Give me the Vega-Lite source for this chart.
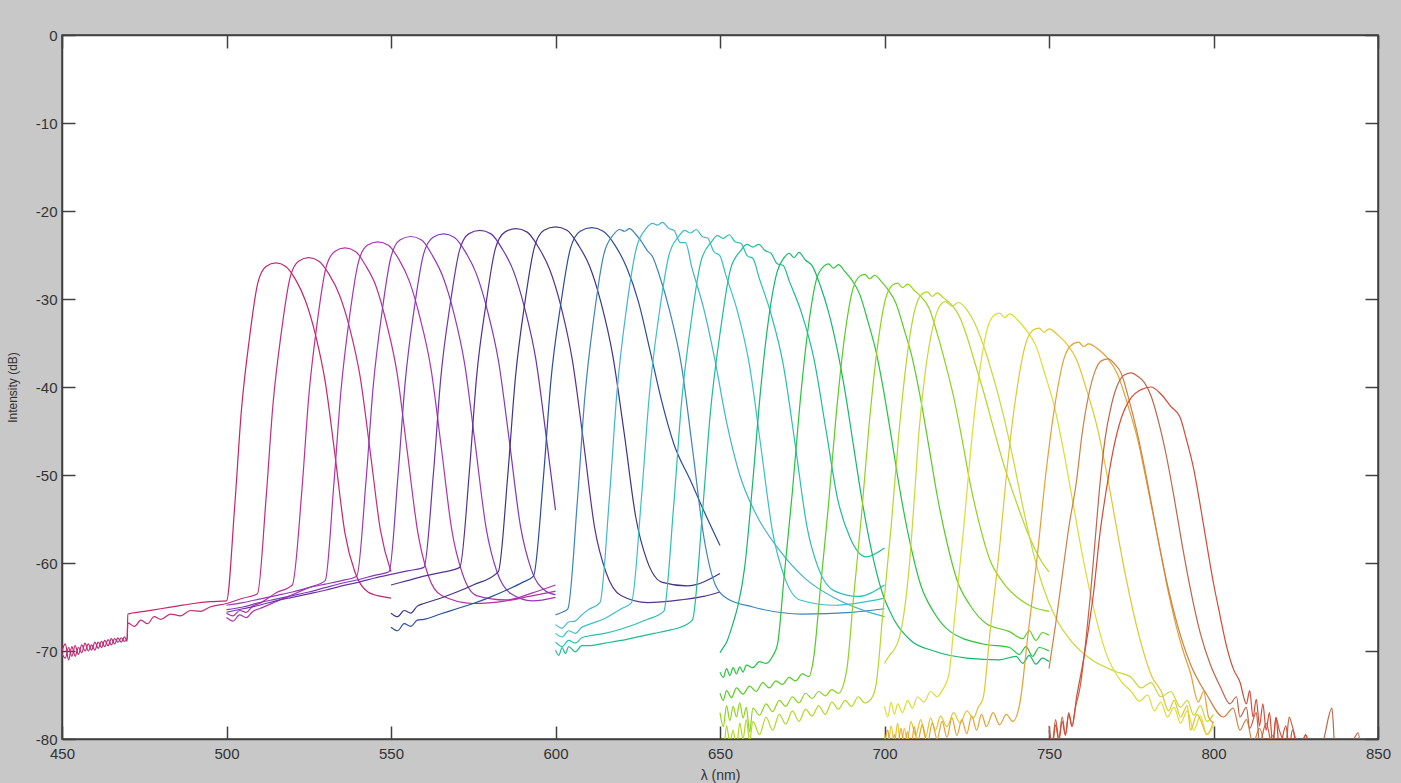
{
"$schema":"https://vega.github.io/schema/vega-lite/v6.json",
"width":1316,"height":704,
"autosize":{"type":"none"},
"padding":{"left":62,"top":35,"right":23,"bottom":44},
"background":"#c8c8c8",
"config":{"view":{"fill":"white","stroke":"#404040","strokeWidth":1.5},
"axis":{"grid":false,"domainColor":"#404040","domainWidth":1.5,"tickColor":"#404040","tickWidth":1.5,"labelFont":"Liberation Sans","labelFontSize":15,"labelColor":"#333333","titleFont":"Liberation Sans","titleFontWeight":"normal","titleColor":"#333333","labelFlush":false,"labelOverlap":false}},
"datasets":{"spectra":[
{"c":"01","x":450,"y":-70},{"c":"01","x":451,"y":-69.2},{"c":"01","x":452,"y":-71},{"c":"01","x":453,"y":-69.5},{"c":"01","x":454,"y":-70.6},{"c":"01","x":455,"y":-69.6},{"c":"01","x":456,"y":-70.2},{"c":"01","x":457,"y":-69.1},{"c":"01","x":458,"y":-70},{"c":"01","x":459,"y":-69.3},{"c":"01","x":460,"y":-69.9},{"c":"01","x":461,"y":-69},{"c":"01","x":462,"y":-69.6},{"c":"01","x":463,"y":-68.8},{"c":"01","x":464,"y":-69.4},{"c":"01","x":465,"y":-68.6},{"c":"01","x":466,"y":-69.2},{"c":"01","x":467,"y":-68.5},{"c":"01","x":468,"y":-69},{"c":"01","x":469,"y":-68.4},{"c":"01","x":469.8,"y":-68.9},{"c":"01","x":470,"y":-65.8},{"c":"01","x":475,"y":-65.5},{"c":"01","x":480,"y":-65.2},{"c":"01","x":485,"y":-64.9},{"c":"01","x":490,"y":-64.6},{"c":"01","x":495,"y":-64.4},{"c":"01","x":500,"y":-64.3},{"c":"01","x":502.5,"y":-53.5},{"c":"01","x":504.5,"y":-42.8},{"c":"01","x":507,"y":-34.4},{"c":"01","x":509.5,"y":-28.2},{"c":"01","x":512,"y":-26.3},{"c":"01","x":515,"y":-25.9},{"c":"01","x":518,"y":-26.3},{"c":"01","x":521,"y":-27.8},{"c":"01","x":524,"y":-30.2},{"c":"01","x":527,"y":-34},{"c":"01","x":530,"y":-39.4},{"c":"01","x":533,"y":-47.8},{"c":"01","x":536,"y":-56.6},{"c":"01","x":539,"y":-61},{"c":"01","x":543,"y":-63.3},{"c":"01","x":547,"y":-63.8},{"c":"01","x":550,"y":-64},
{"c":"02","x":450,"y":-70.3},{"c":"02","x":451,"y":-70.8},{"c":"02","x":452,"y":-69.6},{"c":"02","x":453,"y":-70.6},{"c":"02","x":454,"y":-69.4},{"c":"02","x":455,"y":-70.4},{"c":"02","x":456,"y":-69.3},{"c":"02","x":457,"y":-70},{"c":"02","x":458,"y":-69.2},{"c":"02","x":459,"y":-69.9},{"c":"02","x":460,"y":-69},{"c":"02","x":461,"y":-69.7},{"c":"02","x":462,"y":-68.9},{"c":"02","x":463,"y":-69.5},{"c":"02","x":464,"y":-68.7},{"c":"02","x":465,"y":-69.3},{"c":"02","x":466,"y":-68.6},{"c":"02","x":467,"y":-69},{"c":"02","x":468,"y":-68.5},{"c":"02","x":469,"y":-68.9},{"c":"02","x":469.8,"y":-68.6},{"c":"02","x":470,"y":-66.8},{"c":"02","x":472,"y":-67.2},{"c":"02","x":474,"y":-66.5},{"c":"02","x":476,"y":-66.9},{"c":"02","x":478,"y":-66.1},{"c":"02","x":480,"y":-66.4},{"c":"02","x":483,"y":-65.8},{"c":"02","x":486,"y":-66},{"c":"02","x":489,"y":-65.4},{"c":"02","x":492,"y":-65.5},{"c":"02","x":495,"y":-65},{"c":"02","x":500,"y":-64.6},{"c":"02","x":505,"y":-64},{"c":"02","x":509.4,"y":-63.5},{"c":"02","x":512,"y":-52.8},{"c":"02","x":514.1,"y":-42.1},{"c":"02","x":516.7,"y":-33.7},{"c":"02","x":519.3,"y":-27.6},{"c":"02","x":521.9,"y":-25.7},{"c":"02","x":525,"y":-25.3},{"c":"02","x":528.1,"y":-25.7},{"c":"02","x":531.2,"y":-27.2},{"c":"02","x":534.4,"y":-29.6},{"c":"02","x":537.5,"y":-33.4},{"c":"02","x":540.6,"y":-38.8},{"c":"02","x":543.7,"y":-47.4},{"c":"02","x":546.8,"y":-56.3},{"c":"02","x":550,"y":-61},
{"c":"03","x":500,"y":-65.7},{"c":"03","x":502,"y":-66},{"c":"03","x":504,"y":-65.4},{"c":"03","x":506,"y":-65.6},{"c":"03","x":508,"y":-64.9},{"c":"03","x":510,"y":-64.6},{"c":"03","x":515,"y":-63.4},{"c":"03","x":520,"y":-62.5},{"c":"03","x":522.9,"y":-51.8},{"c":"03","x":525,"y":-41.1},{"c":"03","x":527.6,"y":-32.6},{"c":"03","x":530.2,"y":-26.5},{"c":"03","x":532.9,"y":-24.6},{"c":"03","x":536,"y":-24.2},{"c":"03","x":539.2,"y":-24.6},{"c":"03","x":542.3,"y":-26.2},{"c":"03","x":545.5,"y":-28.6},{"c":"03","x":548.6,"y":-32.7},{"c":"03","x":551.8,"y":-38.3},{"c":"03","x":554.9,"y":-47.2},{"c":"03","x":558.1,"y":-56.4},{"c":"03","x":561.2,"y":-61.3},{"c":"03","x":565.4,"y":-63.7},{"c":"03","x":575,"y":-64.6},{"c":"03","x":585,"y":-64.3},{"c":"03","x":592,"y":-63.8},{"c":"03","x":600,"y":-63.2},
{"c":"04","x":500,"y":-66.2},{"c":"04","x":502,"y":-66.6},{"c":"04","x":504,"y":-65.9},{"c":"04","x":506,"y":-66.2},{"c":"04","x":508,"y":-65.5},{"c":"04","x":510,"y":-65.2},{"c":"04","x":515,"y":-64.4},{"c":"04","x":520,"y":-63.6},{"c":"04","x":525,"y":-62.8},{"c":"04","x":530,"y":-62},{"c":"04","x":532.6,"y":-51.2},{"c":"04","x":534.8,"y":-40.4},{"c":"04","x":537.4,"y":-32},{"c":"04","x":540.1,"y":-25.8},{"c":"04","x":542.8,"y":-23.9},{"c":"04","x":546,"y":-23.5},{"c":"04","x":549.2,"y":-23.9},{"c":"04","x":552.4,"y":-25.5},{"c":"04","x":555.6,"y":-28},{"c":"04","x":558.8,"y":-32.1},{"c":"04","x":562.1,"y":-37.8},{"c":"04","x":565.3,"y":-46.9},{"c":"04","x":568.5,"y":-56.3},{"c":"04","x":571.7,"y":-61.2},{"c":"04","x":576,"y":-63.7},{"c":"04","x":585,"y":-64.2},{"c":"04","x":593,"y":-63.4},{"c":"04","x":600,"y":-62.5},
{"c":"05","x":500,"y":-64.8},{"c":"05","x":505,"y":-64.5},{"c":"05","x":510,"y":-64.1},{"c":"05","x":515,"y":-63.7},{"c":"05","x":520,"y":-63.3},{"c":"05","x":525,"y":-62.8},{"c":"05","x":530,"y":-62.4},{"c":"05","x":535,"y":-62},{"c":"05","x":539.6,"y":-61.5},{"c":"05","x":542.4,"y":-50.7},{"c":"05","x":544.6,"y":-39.9},{"c":"05","x":547.3,"y":-31.4},{"c":"05","x":550,"y":-25.2},{"c":"05","x":552.7,"y":-23.3},{"c":"05","x":556,"y":-22.9},{"c":"05","x":559.3,"y":-23.3},{"c":"05","x":562.5,"y":-25},{"c":"05","x":565.8,"y":-27.5},{"c":"05","x":569.1,"y":-31.6},{"c":"05","x":572.4,"y":-37.4},{"c":"05","x":575.6,"y":-46.5},{"c":"05","x":578.9,"y":-56},{"c":"05","x":582.2,"y":-61},{"c":"05","x":586.5,"y":-63.5},{"c":"05","x":593,"y":-64.3},{"c":"05","x":600,"y":-63.9},
{"c":"06","x":500,"y":-65.3},{"c":"06","x":505,"y":-65},{"c":"06","x":510,"y":-64.5},{"c":"06","x":515,"y":-64.1},{"c":"06","x":520,"y":-63.7},{"c":"06","x":525,"y":-63.3},{"c":"06","x":530,"y":-62.8},{"c":"06","x":535,"y":-62.3},{"c":"06","x":540,"y":-61.9},{"c":"06","x":545,"y":-61.4},{"c":"06","x":549.4,"y":-61},{"c":"06","x":552.1,"y":-50.2},{"c":"06","x":554.3,"y":-39.5},{"c":"06","x":557.1,"y":-31},{"c":"06","x":559.9,"y":-24.9},{"c":"06","x":562.7,"y":-23},{"c":"06","x":566,"y":-22.6},{"c":"06","x":569.3,"y":-23},{"c":"06","x":572.7,"y":-24.7},{"c":"06","x":576,"y":-27.2},{"c":"06","x":579.3,"y":-31.3},{"c":"06","x":582.7,"y":-37.1},{"c":"06","x":586,"y":-46.2},{"c":"06","x":589.3,"y":-55.7},{"c":"06","x":592.6,"y":-60.7},{"c":"06","x":597.1,"y":-63.2},{"c":"06","x":600,"y":-63.6},
{"c":"07","x":500,"y":-65.6},{"c":"07","x":505,"y":-65.2},{"c":"07","x":510,"y":-64.8},{"c":"07","x":515,"y":-64.3},{"c":"07","x":520,"y":-63.9},{"c":"07","x":525,"y":-63.5},{"c":"07","x":530,"y":-63.1},{"c":"07","x":535,"y":-62.6},{"c":"07","x":540,"y":-62.2},{"c":"07","x":545,"y":-61.7},{"c":"07","x":550,"y":-61.3},{"c":"07","x":555,"y":-60.9},{"c":"07","x":560,"y":-60.5},{"c":"07","x":562.9,"y":-49.8},{"c":"07","x":565.1,"y":-39.1},{"c":"07","x":568,"y":-30.6},{"c":"07","x":570.8,"y":-24.5},{"c":"07","x":573.6,"y":-22.6},{"c":"07","x":577,"y":-22.2},{"c":"07","x":580.4,"y":-22.6},{"c":"07","x":583.8,"y":-24.3},{"c":"07","x":587.2,"y":-26.8},{"c":"07","x":590.6,"y":-31},{"c":"07","x":594,"y":-36.8},{"c":"07","x":597.3,"y":-46},{"c":"07","x":600,"y":-54},
{"c":"08","x":550,"y":-62.5},{"c":"08","x":555,"y":-62},{"c":"08","x":560,"y":-61.5},{"c":"08","x":565,"y":-61.1},{"c":"08","x":570.9,"y":-60.5},{"c":"08","x":573.8,"y":-49.7},{"c":"08","x":576,"y":-38.9},{"c":"08","x":578.9,"y":-30.5},{"c":"08","x":581.7,"y":-24.3},{"c":"08","x":584.6,"y":-22.4},{"c":"08","x":588,"y":-22},{"c":"08","x":591.4,"y":-22.4},{"c":"08","x":594.8,"y":-24.1},{"c":"08","x":598.3,"y":-26.7},{"c":"08","x":601.7,"y":-30.9},{"c":"08","x":605.1,"y":-36.9},{"c":"08","x":608.5,"y":-46.2},{"c":"08","x":611.9,"y":-56},{"c":"08","x":615.4,"y":-61.1},{"c":"08","x":619.9,"y":-63.7},{"c":"08","x":628,"y":-64.5},{"c":"08","x":638,"y":-64.2},{"c":"08","x":645,"y":-63.8},{"c":"08","x":650,"y":-63.3},
{"c":"09","x":550,"y":-65.7},{"c":"09","x":552,"y":-66.1},{"c":"09","x":554,"y":-65.4},{"c":"09","x":556,"y":-65.7},{"c":"09","x":558,"y":-64.9},{"c":"09","x":560,"y":-64.6},{"c":"09","x":565,"y":-64},{"c":"09","x":570,"y":-63.3},{"c":"09","x":575,"y":-62.5},{"c":"09","x":582.6,"y":-61},{"c":"09","x":585.5,"y":-50},{"c":"09","x":587.8,"y":-39},{"c":"09","x":590.7,"y":-30.4},{"c":"09","x":593.6,"y":-24.1},{"c":"09","x":596.5,"y":-22.2},{"c":"09","x":600,"y":-21.8},{"c":"09","x":603.5,"y":-22.2},{"c":"09","x":607,"y":-23.9},{"c":"09","x":610.4,"y":-26.3},{"c":"09","x":613.9,"y":-30.5},{"c":"09","x":617.4,"y":-36.4},{"c":"09","x":620.9,"y":-45.3},{"c":"09","x":624.4,"y":-54.8},{"c":"09","x":627.8,"y":-59.7},{"c":"09","x":632.5,"y":-62.2},{"c":"09","x":640,"y":-62.6},{"c":"09","x":650,"y":-61.2},
{"c":"10","x":550,"y":-67.3},{"c":"10","x":552,"y":-67.7},{"c":"10","x":554,"y":-66.9},{"c":"10","x":556,"y":-67.2},{"c":"10","x":558,"y":-66.5},{"c":"10","x":560,"y":-66.4},{"c":"10","x":565,"y":-65.8},{"c":"10","x":570,"y":-65.2},{"c":"10","x":575,"y":-64.6},{"c":"10","x":580,"y":-63.9},{"c":"10","x":585,"y":-63.1},{"c":"10","x":590,"y":-62.2},{"c":"10","x":593.3,"y":-61.5},{"c":"10","x":596.3,"y":-50.4},{"c":"10","x":598.6,"y":-39.3},{"c":"10","x":601.6,"y":-30.6},{"c":"10","x":604.5,"y":-24.3},{"c":"10","x":607.5,"y":-22.3},{"c":"10","x":611,"y":-21.9},{"c":"10","x":614.5,"y":-22.3},{"c":"10","x":618.1,"y":-23.9},{"c":"10","x":621.6,"y":-26.4},{"c":"10","x":625.2,"y":-30.3},{"c":"10","x":628.7,"y":-35.8},{"c":"10","x":632.2,"y":-41.5},{"c":"10","x":636,"y":-46.5},{"c":"10","x":641,"y":-50.6},{"c":"10","x":645,"y":-54},{"c":"10","x":650,"y":-58},
{"c":"11","x":600,"y":-65.9},{"c":"11","x":602,"y":-65.6},{"c":"11","x":603.75,"y":-65.2},{"c":"11","x":606.6,"y":-53.2},{"c":"11","x":608.9,"y":-41.2},{"c":"11","x":611.8,"y":-31.7},{"c":"11","x":614.7,"y":-24.9},{"c":"11","x":617.6,"y":-22.7},{"c":"11","x":619.5,"y":-22.1},{"c":"11","x":621,"y":-22.3},{"c":"11","x":622.5,"y":-22},{"c":"11","x":624.5,"y":-22.7},{"c":"11","x":626,"y":-23.4},{"c":"11","x":627.9,"y":-24.5},{"c":"11","x":629.5,"y":-25.2},{"c":"11","x":631.4,"y":-27.1},{"c":"11","x":634.8,"y":-31.5},{"c":"11","x":638.3,"y":-37.6},{"c":"11","x":641.7,"y":-47.2},{"c":"11","x":645.2,"y":-57.3},{"c":"11","x":648.6,"y":-62.5},{"c":"11","x":652,"y":-64},{"c":"11","x":660,"y":-65},{"c":"11","x":675,"y":-65.8},{"c":"11","x":690,"y":-65.6},{"c":"11","x":700,"y":-65.2},
{"c":"12","x":600,"y":-67},{"c":"12","x":602,"y":-67.4},{"c":"12","x":604,"y":-66.7},{"c":"12","x":606,"y":-66.6},{"c":"12","x":608,"y":-65.9},{"c":"12","x":610,"y":-65.3},{"c":"12","x":613.5,"y":-64.5},{"c":"12","x":616.4,"y":-52.5},{"c":"12","x":618.7,"y":-40.5},{"c":"12","x":621.6,"y":-31},{"c":"12","x":624.6,"y":-24.2},{"c":"12","x":627.5,"y":-22},{"c":"12","x":629.5,"y":-21.4},{"c":"12","x":631,"y":-21.6},{"c":"12","x":632.5,"y":-21.3},{"c":"12","x":634.5,"y":-22},{"c":"12","x":636,"y":-22.2},{"c":"12","x":638,"y":-23.6},{"c":"12","x":639.5,"y":-23.6},{"c":"12","x":641.5,"y":-26.5},{"c":"12","x":645,"y":-31},{"c":"12","x":648.5,"y":-37},{"c":"12","x":652,"y":-44},{"c":"12","x":656,"y":-50},{"c":"12","x":661,"y":-54.5},{"c":"12","x":668,"y":-58.5},{"c":"12","x":676,"y":-61.8},{"c":"12","x":685,"y":-64},{"c":"12","x":693,"y":-65.3},{"c":"12","x":700,"y":-66.1},
{"c":"13","x":600,"y":-68},{"c":"13","x":602,"y":-68.4},{"c":"13","x":604,"y":-67.7},{"c":"13","x":606,"y":-68},{"c":"13","x":608,"y":-67.3},{"c":"13","x":610,"y":-67},{"c":"13","x":615,"y":-66.3},{"c":"13","x":620,"y":-65.2},{"c":"13","x":623.1,"y":-64.5},{"c":"13","x":626.1,"y":-52.7},{"c":"13","x":628.5,"y":-41},{"c":"13","x":631.5,"y":-31.7},{"c":"13","x":634.5,"y":-25},{"c":"13","x":637.4,"y":-22.9},{"c":"13","x":639.3,"y":-22.2},{"c":"13","x":641,"y":-22.5},{"c":"13","x":642.8,"y":-22.1},{"c":"13","x":644.6,"y":-22.9},{"c":"13","x":646.3,"y":-23.1},{"c":"13","x":648.1,"y":-24.6},{"c":"13","x":650,"y":-25.1},{"c":"13","x":651.7,"y":-27.2},{"c":"13","x":655.3,"y":-31.4},{"c":"13","x":658.9,"y":-37.4},{"c":"13","x":662.4,"y":-46.7},{"c":"13","x":666,"y":-56.5},{"c":"13","x":669.6,"y":-61.6},{"c":"13","x":674.3,"y":-64.2},{"c":"13","x":685,"y":-64.8},{"c":"13","x":700,"y":-64},
{"c":"14","x":600,"y":-69},{"c":"14","x":602,"y":-69.5},{"c":"14","x":604,"y":-68.8},{"c":"14","x":606,"y":-69.1},{"c":"14","x":608,"y":-68.5},{"c":"14","x":610,"y":-68.3},{"c":"14","x":615,"y":-68},{"c":"14","x":620,"y":-67.5},{"c":"14","x":628,"y":-66.4},{"c":"14","x":632.9,"y":-65.5},{"c":"14","x":635.9,"y":-53.6},{"c":"14","x":638.3,"y":-41.8},{"c":"14","x":641.3,"y":-32.4},{"c":"14","x":644.3,"y":-25.6},{"c":"14","x":647.4,"y":-23.5},{"c":"14","x":649.2,"y":-22.8},{"c":"14","x":651,"y":-23.1},{"c":"14","x":652.8,"y":-22.7},{"c":"14","x":654.6,"y":-23.5},{"c":"14","x":656.4,"y":-23.7},{"c":"14","x":658.3,"y":-25.1},{"c":"14","x":660,"y":-25.4},{"c":"14","x":661.9,"y":-27.6},{"c":"14","x":665.5,"y":-31.7},{"c":"14","x":669.2,"y":-37.4},{"c":"14","x":672.8,"y":-46.4},{"c":"14","x":676.4,"y":-55.8},{"c":"14","x":680,"y":-60.7},{"c":"14","x":684.9,"y":-63.2},{"c":"14","x":692,"y":-63.8},{"c":"14","x":700,"y":-62.5},
{"c":"15","x":600,"y":-69.9},{"c":"15","x":601,"y":-70.5},{"c":"15","x":602,"y":-69.6},{"c":"15","x":603,"y":-70.3},{"c":"15","x":604,"y":-69.5},{"c":"15","x":606,"y":-70.1},{"c":"15","x":608,"y":-69.4},{"c":"15","x":610,"y":-69.4},{"c":"15","x":615,"y":-69.1},{"c":"15","x":620,"y":-68.8},{"c":"15","x":625,"y":-68.4},{"c":"15","x":630,"y":-68},{"c":"15","x":635,"y":-67.6},{"c":"15","x":638,"y":-67.3},{"c":"15","x":641.6,"y":-66.5},{"c":"15","x":644.6,"y":-54.6},{"c":"15","x":647.1,"y":-42.8},{"c":"15","x":650.2,"y":-33.4},{"c":"15","x":653.2,"y":-26.6},{"c":"15","x":656.3,"y":-24.5},{"c":"15","x":658.2,"y":-23.8},{"c":"15","x":660,"y":-24.1},{"c":"15","x":661.8,"y":-23.8},{"c":"15","x":663.7,"y":-24.5},{"c":"15","x":665.5,"y":-24.8},{"c":"15","x":667.4,"y":-26},{"c":"15","x":669.2,"y":-26.2},{"c":"15","x":671.1,"y":-28},{"c":"15","x":674.8,"y":-31.6},{"c":"15","x":678.5,"y":-36.7},{"c":"15","x":682.1,"y":-44.6},{"c":"15","x":685.8,"y":-52.8},{"c":"15","x":689.5,"y":-57.1},{"c":"15","x":694.4,"y":-59.3},{"c":"15","x":700,"y":-58.3},
{"c":"16","x":650,"y":-70.2},{"c":"16","x":651,"y":-69.6},{"c":"16","x":652,"y":-69},{"c":"16","x":653,"y":-68},{"c":"16","x":654,"y":-66.8},{"c":"16","x":655.5,"y":-64.8},{"c":"16","x":657.5,"y":-60.5},{"c":"16","x":660,"y":-50.6},{"c":"16","x":662.3,"y":-40.5},{"c":"16","x":664.8,"y":-32.2},{"c":"16","x":667.3,"y":-27},{"c":"16","x":669.5,"y":-25.3},{"c":"16","x":671,"y":-24.8},{"c":"16","x":672.5,"y":-25.3},{"c":"16","x":674,"y":-24.7},{"c":"16","x":676,"y":-25.6},{"c":"16","x":678,"y":-26.2},{"c":"16","x":680.5,"y":-28.5},{"c":"16","x":683,"y":-31.5},{"c":"16","x":685.5,"y":-35.5},{"c":"16","x":688,"y":-40.5},{"c":"16","x":690.5,"y":-46.5},{"c":"16","x":693,"y":-52.5},{"c":"16","x":696,"y":-58.5},{"c":"16","x":699,"y":-63},{"c":"16","x":703,"y":-66.5},{"c":"16","x":708,"y":-68.8},{"c":"16","x":715,"y":-70},{"c":"16","x":725,"y":-70.8},{"c":"16","x":735,"y":-71},{"c":"16","x":740,"y":-70.6},{"c":"16","x":742,"y":-71.4},{"c":"16","x":744,"y":-70.5},{"c":"16","x":746,"y":-71.5},{"c":"16","x":748,"y":-70.8},{"c":"16","x":750,"y":-71.2},
{"c":"17","x":650,"y":-72.4},{"c":"17","x":651,"y":-73},{"c":"17","x":652,"y":-72},{"c":"17","x":653,"y":-72.8},{"c":"17","x":654,"y":-71.9},{"c":"17","x":655,"y":-72.6},{"c":"17","x":656,"y":-71.8},{"c":"17","x":657,"y":-72.4},{"c":"17","x":658,"y":-71.6},{"c":"17","x":660,"y":-71.9},{"c":"17","x":662,"y":-71.2},{"c":"17","x":664,"y":-71.4},{"c":"17","x":666,"y":-70.6},{"c":"17","x":667.5,"y":-69.2},{"c":"17","x":669.5,"y":-61.5},{"c":"17","x":672,"y":-51.9},{"c":"17","x":674.3,"y":-41.9},{"c":"17","x":676.8,"y":-33.3},{"c":"17","x":679.3,"y":-27.8},{"c":"17","x":681.5,"y":-26.3},{"c":"17","x":683,"y":-26},{"c":"17","x":684.5,"y":-26.5},{"c":"17","x":686,"y":-26.1},{"c":"17","x":688,"y":-26.9},{"c":"17","x":690,"y":-27.8},{"c":"17","x":692.5,"y":-29.5},{"c":"17","x":695,"y":-32.6},{"c":"17","x":697.5,"y":-36.1},{"c":"17","x":700,"y":-41},{"c":"17","x":702.5,"y":-46.7},{"c":"17","x":705,"y":-52.4},{"c":"17","x":708,"y":-58.1},{"c":"17","x":711,"y":-62.5},{"c":"17","x":715,"y":-65.6},{"c":"17","x":720,"y":-67.8},{"c":"17","x":730,"y":-69.2},{"c":"17","x":738,"y":-69.6},{"c":"17","x":741,"y":-70.4},{"c":"17","x":743,"y":-69.5},{"c":"17","x":745,"y":-70.6},{"c":"17","x":747,"y":-69.6},{"c":"17","x":750,"y":-70},
{"c":"18","x":650,"y":-74.8},{"c":"18","x":651,"y":-75.6},{"c":"18","x":652,"y":-74.5},{"c":"18","x":653.5,"y":-75.3},{"c":"18","x":655,"y":-74.2},{"c":"18","x":657,"y":-74.9},{"c":"18","x":659,"y":-74},{"c":"18","x":661,"y":-74.6},{"c":"18","x":663,"y":-73.6},{"c":"18","x":665,"y":-74.2},{"c":"18","x":667,"y":-73.4},{"c":"18","x":669,"y":-73.8},{"c":"18","x":671,"y":-73},{"c":"18","x":673,"y":-73.4},{"c":"18","x":675,"y":-72.6},{"c":"18","x":677,"y":-72.9},{"c":"18","x":678.5,"y":-70.7},{"c":"18","x":680.5,"y":-62.9},{"c":"18","x":683,"y":-53.3},{"c":"18","x":685.3,"y":-43.2},{"c":"18","x":687.8,"y":-34.5},{"c":"18","x":690.3,"y":-29},{"c":"18","x":692.5,"y":-27.4},{"c":"18","x":694,"y":-27.2},{"c":"18","x":695.5,"y":-27.7},{"c":"18","x":697,"y":-27.3},{"c":"18","x":699,"y":-28},{"c":"18","x":701,"y":-28.9},{"c":"18","x":703.5,"y":-30.5},{"c":"18","x":706,"y":-33.5},{"c":"18","x":708.5,"y":-36.8},{"c":"18","x":711,"y":-41.4},{"c":"18","x":713.5,"y":-46.8},{"c":"18","x":716,"y":-52.3},{"c":"18","x":719,"y":-57.7},{"c":"18","x":722,"y":-61.9},{"c":"18","x":726,"y":-64.8},{"c":"18","x":731,"y":-66.9},{"c":"18","x":738,"y":-67.8},{"c":"18","x":742,"y":-68.6},{"c":"18","x":744,"y":-67.7},{"c":"18","x":746,"y":-68.8},{"c":"18","x":748,"y":-67.9},{"c":"18","x":750,"y":-68.2},
{"c":"19","x":650,"y":-77},{"c":"19","x":651,"y":-78.6},{"c":"19","x":652,"y":-76.2},{"c":"19","x":653,"y":-77.9},{"c":"19","x":654,"y":-76.3},{"c":"19","x":655,"y":-77.5},{"c":"19","x":656,"y":-75.9},{"c":"19","x":657,"y":-77.6},{"c":"19","x":658,"y":-76.4},{"c":"19","x":659,"y":-79.2},{"c":"19","x":660,"y":-76.5},{"c":"19","x":662,"y":-77.3},{"c":"19","x":664,"y":-76},{"c":"19","x":666,"y":-76.9},{"c":"19","x":668,"y":-75.6},{"c":"19","x":670,"y":-76.3},{"c":"19","x":672,"y":-75.2},{"c":"19","x":674,"y":-75.9},{"c":"19","x":676,"y":-74.8},{"c":"19","x":678,"y":-75.4},{"c":"19","x":680,"y":-74.6},{"c":"19","x":682,"y":-75.1},{"c":"19","x":684,"y":-74.4},{"c":"19","x":686,"y":-74.8},{"c":"19","x":688.5,"y":-72.2},{"c":"19","x":690.5,"y":-64.3},{"c":"19","x":693,"y":-54.6},{"c":"19","x":695.3,"y":-44.4},{"c":"19","x":697.8,"y":-35.6},{"c":"19","x":700.3,"y":-30},{"c":"19","x":702.5,"y":-28.4},{"c":"19","x":704,"y":-28.2},{"c":"19","x":705.5,"y":-28.7},{"c":"19","x":707,"y":-28.3},{"c":"19","x":709,"y":-29},{"c":"19","x":711,"y":-29.7},{"c":"19","x":713.5,"y":-31},{"c":"19","x":716,"y":-33.9},{"c":"19","x":718.5,"y":-37.3},{"c":"19","x":721,"y":-41.1},{"c":"19","x":723.5,"y":-45.8},{"c":"19","x":726,"y":-50.9},{"c":"19","x":729,"y":-55.8},{"c":"19","x":732,"y":-59.6},{"c":"19","x":736,"y":-62.2},{"c":"19","x":741,"y":-64.1},{"c":"19","x":745,"y":-65},{"c":"19","x":750,"y":-65.5},
{"c":"20","x":650,"y":-80},{"c":"20","x":651,"y":-81.5},{"c":"20","x":652,"y":-78.5},{"c":"20","x":653,"y":-80.4},{"c":"20","x":654,"y":-79},{"c":"20","x":655,"y":-81.2},{"c":"20","x":656,"y":-78.2},{"c":"20","x":657,"y":-80},{"c":"20","x":658,"y":-77.8},{"c":"20","x":659,"y":-80.2},{"c":"20","x":660,"y":-78},{"c":"20","x":662,"y":-79.5},{"c":"20","x":664,"y":-77.5},{"c":"20","x":666,"y":-79},{"c":"20","x":668,"y":-77.2},{"c":"20","x":670,"y":-78.3},{"c":"20","x":672,"y":-76.8},{"c":"20","x":674,"y":-78},{"c":"20","x":676,"y":-76.6},{"c":"20","x":678,"y":-77.4},{"c":"20","x":680,"y":-76.2},{"c":"20","x":682,"y":-77.2},{"c":"20","x":684,"y":-75.8},{"c":"20","x":686,"y":-76.6},{"c":"20","x":688,"y":-75.6},{"c":"20","x":690,"y":-76.3},{"c":"20","x":692,"y":-75.2},{"c":"20","x":694,"y":-75.9},{"c":"20","x":696,"y":-75.4},{"c":"20","x":697.5,"y":-73.7},{"c":"20","x":699.5,"y":-65.7},{"c":"20","x":702,"y":-55.9},{"c":"20","x":704.3,"y":-45.6},{"c":"20","x":706.8,"y":-36.7},{"c":"20","x":709.3,"y":-31.1},{"c":"20","x":711.5,"y":-29.4},{"c":"20","x":713,"y":-29.2},{"c":"20","x":714.5,"y":-29.7},{"c":"20","x":716,"y":-29.3},{"c":"20","x":718,"y":-29.9},{"c":"20","x":720,"y":-30.5},{"c":"20","x":722.5,"y":-31.8},{"c":"20","x":725,"y":-34.2},{"c":"20","x":727.5,"y":-37.3},{"c":"20","x":730,"y":-40.4},{"c":"20","x":733,"y":-44.5},{"c":"20","x":736,"y":-48.5},{"c":"20","x":740,"y":-53},{"c":"20","x":744,"y":-57},{"c":"20","x":748,"y":-60},{"c":"20","x":750,"y":-61},
{"c":"21","x":700,"y":-71.4},{"c":"21","x":701.5,"y":-70.5},{"c":"21","x":703,"y":-69.8},{"c":"21","x":704.5,"y":-68.5},{"c":"21","x":706,"y":-65.5},{"c":"21","x":707.5,"y":-60.5},{"c":"21","x":709,"y":-53},{"c":"21","x":710.5,"y":-45},{"c":"21","x":712.5,"y":-38},{"c":"21","x":714.5,"y":-33.5},{"c":"21","x":716.5,"y":-31},{"c":"21","x":718.5,"y":-30.3},{"c":"21","x":720.5,"y":-30.8},{"c":"21","x":722.5,"y":-30.4},{"c":"21","x":725,"y":-31.2},{"c":"21","x":727.5,"y":-32.8},{"c":"21","x":730,"y":-35.2},{"c":"21","x":733,"y":-38.8},{"c":"21","x":736,"y":-43},{"c":"21","x":739,"y":-48},{"c":"21","x":742,"y":-53.5},{"c":"21","x":745,"y":-58.5},{"c":"21","x":748,"y":-62.5},{"c":"21","x":752,"y":-66.2},{"c":"21","x":757,"y":-69},{"c":"21","x":763,"y":-71},{"c":"21","x":770,"y":-72.3},{"c":"21","x":775,"y":-73},{"c":"21","x":778,"y":-74.2},{"c":"21","x":781,"y":-73.6},{"c":"21","x":784,"y":-75.2},{"c":"21","x":787,"y":-74.6},{"c":"21","x":790,"y":-76.4},{"c":"21","x":792,"y":-75.6},{"c":"21","x":794,"y":-77.3},{"c":"21","x":796,"y":-76.2},{"c":"21","x":798,"y":-78},{"c":"21","x":800,"y":-77.2},
{"c":"22","x":700,"y":-76.3},{"c":"22","x":701,"y":-77.5},{"c":"22","x":702,"y":-75.8},{"c":"22","x":703,"y":-77.2},{"c":"22","x":704,"y":-76},{"c":"22","x":705.5,"y":-77},{"c":"22","x":707,"y":-75.6},{"c":"22","x":708.5,"y":-76.5},{"c":"22","x":710,"y":-75.2},{"c":"22","x":712,"y":-75.8},{"c":"22","x":714,"y":-74.6},{"c":"22","x":716,"y":-75.2},{"c":"22","x":717.5,"y":-74.5},{"c":"22","x":719.5,"y":-72.8},{"c":"22","x":721.5,"y":-65.5},{"c":"22","x":724,"y":-56.3},{"c":"22","x":726.3,"y":-46.8},{"c":"22","x":728.8,"y":-38.5},{"c":"22","x":731.3,"y":-33.3},{"c":"22","x":733.5,"y":-31.8},{"c":"22","x":735,"y":-31.6},{"c":"22","x":736.5,"y":-32.1},{"c":"22","x":738,"y":-31.7},{"c":"22","x":740.75,"y":-32.5},{"c":"22","x":743,"y":-33.5},{"c":"22","x":746,"y":-35.3},{"c":"22","x":748.8,"y":-38.6},{"c":"22","x":751.7,"y":-42.3},{"c":"22","x":754.5,"y":-47.4},{"c":"22","x":757.4,"y":-53.4},{"c":"22","x":760.3,"y":-59.4},{"c":"22","x":763.8,"y":-65.5},{"c":"22","x":767.2,"y":-70.1},{"c":"22","x":771.8,"y":-73.4},{"c":"22","x":775,"y":-74.6},{"c":"22","x":777.5,"y":-75.7},{"c":"22","x":780,"y":-75},{"c":"22","x":782,"y":-76.8},{"c":"22","x":784,"y":-75.8},{"c":"22","x":786,"y":-77.5},{"c":"22","x":788,"y":-76.4},{"c":"22","x":790,"y":-78.2},{"c":"22","x":792,"y":-76.8},{"c":"22","x":794,"y":-79},{"c":"22","x":796,"y":-77.4},{"c":"22","x":798,"y":-79.5},{"c":"22","x":800,"y":-78.4},
{"c":"23","x":700,"y":-79.5},{"c":"23","x":701,"y":-81},{"c":"23","x":702,"y":-78.5},{"c":"23","x":703,"y":-80.5},{"c":"23","x":704,"y":-78.2},{"c":"23","x":705,"y":-81.5},{"c":"23","x":706,"y":-78.8},{"c":"23","x":707,"y":-80.2},{"c":"23","x":708,"y":-78},{"c":"23","x":709.5,"y":-79.6},{"c":"23","x":711,"y":-77.8},{"c":"23","x":712.5,"y":-79.8},{"c":"23","x":714,"y":-77.6},{"c":"23","x":715.5,"y":-79},{"c":"23","x":717,"y":-77.4},{"c":"23","x":719,"y":-78.6},{"c":"23","x":721,"y":-77},{"c":"23","x":723,"y":-78.2},{"c":"23","x":725,"y":-76.8},{"c":"23","x":727,"y":-77.6},{"c":"23","x":728.5,"y":-76.4},{"c":"23","x":730,"y":-75.3},{"c":"23","x":732.1,"y":-67.8},{"c":"23","x":734.9,"y":-58.5},{"c":"23","x":737.4,"y":-48.8},{"c":"23","x":740.2,"y":-40.4},{"c":"23","x":742.9,"y":-35.1},{"c":"23","x":745.3,"y":-33.5},{"c":"23","x":747,"y":-33.3},{"c":"23","x":748.5,"y":-33.8},{"c":"23","x":750,"y":-33.4},{"c":"23","x":753,"y":-34.2},{"c":"23","x":755.4,"y":-35.1},{"c":"23","x":758.4,"y":-36.9},{"c":"23","x":761.4,"y":-40.3},{"c":"23","x":764.4,"y":-44.2},{"c":"23","x":767.4,"y":-49.5},{"c":"23","x":770.4,"y":-55.7},{"c":"23","x":773.4,"y":-61.7},{"c":"23","x":777.4,"y":-68.3},{"c":"23","x":781.4,"y":-73},{"c":"23","x":784,"y":-74.5},{"c":"23","x":786.4,"y":-76.8},{"c":"23","x":788,"y":-75.6},{"c":"23","x":790,"y":-77.5},{"c":"23","x":792,"y":-76.2},{"c":"23","x":793,"y":-79},{"c":"23","x":795,"y":-77.2},{"c":"23","x":796,"y":-77.8},{"c":"23","x":798,"y":-79.5},{"c":"23","x":800,"y":-78},
{"c":"24","x":700,"y":-80.5},{"c":"24","x":701,"y":-79},{"c":"24","x":702,"y":-82},{"c":"24","x":703,"y":-79.5},{"c":"24","x":704,"y":-81},{"c":"24","x":705,"y":-78.8},{"c":"24","x":706,"y":-80.8},{"c":"24","x":707,"y":-79.2},{"c":"24","x":708,"y":-81.5},{"c":"24","x":709,"y":-78.6},{"c":"24","x":710,"y":-80.4},{"c":"24","x":711.5,"y":-78.4},{"c":"24","x":713,"y":-80.6},{"c":"24","x":714.5,"y":-78.2},{"c":"24","x":716,"y":-80},{"c":"24","x":717.5,"y":-78},{"c":"24","x":719,"y":-79.8},{"c":"24","x":720.5,"y":-77.6},{"c":"24","x":722,"y":-79.6},{"c":"24","x":723.5,"y":-77.8},{"c":"24","x":725,"y":-79.4},{"c":"24","x":726.5,"y":-77.4},{"c":"24","x":728,"y":-79},{"c":"24","x":729.5,"y":-77.2},{"c":"24","x":731,"y":-78.6},{"c":"24","x":733,"y":-77},{"c":"24","x":735,"y":-78.4},{"c":"24","x":737,"y":-77.2},{"c":"24","x":739,"y":-78},{"c":"24","x":741.2,"y":-75.8},{"c":"24","x":743.5,"y":-68.5},{"c":"24","x":746.35,"y":-59.5},{"c":"24","x":749,"y":-50},{"c":"24","x":751.9,"y":-41.8},{"c":"24","x":754.7,"y":-36.6},{"c":"24","x":757.3,"y":-35.1},{"c":"24","x":759,"y":-34.9},{"c":"24","x":760.5,"y":-35.4},{"c":"24","x":762,"y":-35.1},{"c":"24","x":765.25,"y":-35.8},{"c":"24","x":767.75,"y":-36.7},{"c":"24","x":770.9,"y":-38.6},{"c":"24","x":774,"y":-42.1},{"c":"24","x":777.1,"y":-46.2},{"c":"24","x":780.2,"y":-51.8},{"c":"24","x":783.4,"y":-57.8},{"c":"24","x":786.5,"y":-63.7},{"c":"24","x":790.6,"y":-69.8},{"c":"24","x":793,"y":-72.5},{"c":"24","x":795.4,"y":-75.8},{"c":"24","x":797,"y":-74.6},{"c":"24","x":798.5,"y":-77.5},{"c":"24","x":800,"y":-78.2},
{"c":"25","x":750,"y":-72},{"c":"25","x":752,"y":-67},{"c":"25","x":754,"y":-61.5},{"c":"25","x":756,"y":-56},{"c":"25","x":758.4,"y":-50.6},{"c":"25","x":760,"y":-45.5},{"c":"25","x":762,"y":-41},{"c":"25","x":764,"y":-38.2},{"c":"25","x":766,"y":-37},{"c":"25","x":768,"y":-36.8},{"c":"25","x":770,"y":-37.4},{"c":"25","x":772,"y":-38.5},{"c":"25","x":774,"y":-41},{"c":"25","x":777,"y":-45.5},{"c":"25","x":780,"y":-51},{"c":"25","x":783,"y":-57},{"c":"25","x":786,"y":-62.5},{"c":"25","x":789,"y":-67},{"c":"25","x":793,"y":-71.5},{"c":"25","x":798,"y":-75},{"c":"25","x":803,"y":-77.5},{"c":"25","x":806,"y":-76.5},{"c":"25","x":808,"y":-79},{"c":"25","x":810,"y":-77.8},{"c":"25","x":812,"y":-80.5},{"c":"25","x":814,"y":-78.8},{"c":"25","x":816,"y":-81},{"c":"25","x":818,"y":-79.6},{"c":"25","x":820,"y":-82},{"c":"25","x":824,"y":-80.5},{"c":"25","x":828,"y":-82},{"c":"25","x":835,"y":-81.5},{"c":"25","x":850,"y":-82},
{"c":"26","x":750,"y":-78.5},{"c":"26","x":751,"y":-80.5},{"c":"26","x":752,"y":-77.8},{"c":"26","x":753,"y":-80},{"c":"26","x":754,"y":-77.5},{"c":"26","x":755,"y":-79.5},{"c":"26","x":756,"y":-77},{"c":"26","x":757,"y":-78.5},{"c":"26","x":758,"y":-76.5},{"c":"26","x":759.5,"y":-74},{"c":"26","x":761,"y":-69.5},{"c":"26","x":762.5,"y":-64},{"c":"26","x":764,"y":-57.5},{"c":"26","x":765.5,"y":-51},{"c":"26","x":767,"y":-46},{"c":"26","x":769,"y":-42},{"c":"26","x":771,"y":-39.6},{"c":"26","x":773,"y":-38.6},{"c":"26","x":775,"y":-38.4},{"c":"26","x":777,"y":-38.8},{"c":"26","x":779,"y":-39.5},{"c":"26","x":781,"y":-41},{"c":"26","x":783,"y":-43.5},{"c":"26","x":785.5,"y":-47.5},{"c":"26","x":788,"y":-52.5},{"c":"26","x":790.5,"y":-58},{"c":"26","x":793,"y":-63},{"c":"26","x":796,"y":-68},{"c":"26","x":799,"y":-71.5},{"c":"26","x":802,"y":-74},{"c":"26","x":805,"y":-76},{"c":"26","x":807,"y":-75.2},{"c":"26","x":808,"y":-77.5},{"c":"26","x":810,"y":-76.4},{"c":"26","x":811,"y":-78.8},{"c":"26","x":813,"y":-77},{"c":"26","x":814,"y":-80.5},{"c":"26","x":816,"y":-78.2},{"c":"26","x":818,"y":-81},{"c":"26","x":819,"y":-77.6},{"c":"26","x":820,"y":-79},{"c":"26","x":822,"y":-80.5},{"c":"26","x":823,"y":-77.5},{"c":"26","x":824,"y":-78.6},{"c":"26","x":826,"y":-81},{"c":"26","x":828,"y":-79.6},{"c":"26","x":830,"y":-81.5},{"c":"26","x":833,"y":-80.6},{"c":"26","x":836,"y":-76.5},{"c":"26","x":837,"y":-81.5},{"c":"26","x":840,"y":-82},{"c":"26","x":844,"y":-79.3},{"c":"26","x":845,"y":-82},{"c":"26","x":850,"y":-82},
{"c":"27","x":750,"y":-79},{"c":"27","x":751,"y":-80.8},{"c":"27","x":752,"y":-78.4},{"c":"27","x":753,"y":-80.2},{"c":"27","x":754,"y":-78},{"c":"27","x":755,"y":-79.6},{"c":"27","x":756,"y":-77.2},{"c":"27","x":757,"y":-78.6},{"c":"27","x":758.4,"y":-75.2},{"c":"27","x":760,"y":-72},{"c":"27","x":762,"y":-67.5},{"c":"27","x":763.5,"y":-63.5},{"c":"27","x":765.5,"y":-56.6},{"c":"27","x":767.5,"y":-51.5},{"c":"27","x":769.5,"y":-47.2},{"c":"27","x":772,"y":-43.5},{"c":"27","x":775,"y":-41.2},{"c":"27","x":778,"y":-40.3},{"c":"27","x":781,"y":-40},{"c":"27","x":784,"y":-40.8},{"c":"27","x":787,"y":-42.2},{"c":"27","x":789.8,"y":-43.4},{"c":"27","x":791.8,"y":-46},{"c":"27","x":793.8,"y":-49},{"c":"27","x":796,"y":-53.5},{"c":"27","x":798,"y":-58},{"c":"27","x":800,"y":-62.3},{"c":"27","x":802,"y":-66},{"c":"27","x":804,"y":-69.5},{"c":"27","x":806,"y":-72},{"c":"27","x":808,"y":-73.5},{"c":"27","x":810,"y":-76},{"c":"27","x":811,"y":-74.5},{"c":"27","x":812,"y":-77.5},{"c":"27","x":813,"y":-75.5},{"c":"27","x":814,"y":-78.5},{"c":"27","x":815,"y":-76},{"c":"27","x":816,"y":-79},{"c":"27","x":817,"y":-77},{"c":"27","x":818,"y":-80.5},{"c":"27","x":819,"y":-77.5},{"c":"27","x":820,"y":-81},{"c":"27","x":822,"y":-78.5},{"c":"27","x":823,"y":-81},{"c":"27","x":824,"y":-79},{"c":"27","x":826,"y":-82},{"c":"27","x":828,"y":-79.5},{"c":"27","x":830,"y":-82},{"c":"27","x":832,"y":-80.5},{"c":"27","x":834,"y":-82},{"c":"27","x":837,"y":-82},{"c":"27","x":840,"y":-81},{"c":"27","x":843,"y":-82},{"c":"27","x":845,"y":-80.5},{"c":"27","x":847,"y":-82},{"c":"27","x":850,"y":-82}
],
"frame":[{"x":450,"y":0}]},
"layer":[
{"data":{"name":"spectra"},
"mark":{"type":"line","strokeWidth":1.2,"clip":true,"interpolate":"monotone"},
"encoding":{
"x":{"field":"x","type":"quantitative","scale":{"domain":[450,850],"nice":false,"zero":false},
"axis":{"orient":"bottom","values":[450,500,550,600,650,700,750,800,850],"tickSize":-13,"labelPadding":20,"title":"λ (nm)","titleFontSize":14,"titleX":658,"titleY":36,"titleBaseline":"middle"}},
"y":{"field":"y","type":"quantitative","scale":{"domain":[-80,0],"nice":false,"zero":false},
"axis":{"orient":"left","values":[0,-10,-20,-30,-40,-50,-60,-70,-80],"tickSize":-13,"labelPadding":18,"labelExpr":"toString(datum.value)","title":"Intensity (dB)","titleFontSize":12,"titleX":-50,"titleBaseline":"middle"}},
"color":{"field":"c","type":"nominal","legend":null,
"scale":{"domain":["01","02","03","04","05","06","07","08","09","10","11","12","13","14","15","16","17","18","19","20","21","22","23","24","25","26","27"],
"range":["#c8246a","#c02c80","#b830a0","#ac34b0","#9838b8","#8438b8","#6c34a8","#563290","#3e3488","#2c4ca0","#3c84bc","#40b4d0","#38c0c8","#28c0b0","#1cbc94","#14b86a","#24c43c","#58cc24","#8cd41c","#b0d824","#c8d834","#dcdc34","#e4c42c","#e4a034","#d08040","#c06448","#d44a34"]}}}},
{"data":{"name":"frame"},
"mark":{"type":"point","opacity":0},
"encoding":{
"x":{"field":"x","type":"quantitative","scale":{"domain":[450,850],"nice":false,"zero":false},
"axis":{"orient":"top","values":[450,500,550,600,650,700,750,800,850],"tickSize":-13,"labels":false,"title":null}},
"y":{"field":"y","type":"quantitative","scale":{"domain":[-80,0],"nice":false,"zero":false},
"axis":{"orient":"right","values":[0,-10,-20,-30,-40,-50,-60,-70,-80],"tickSize":-13,"labels":false,"title":null}}}}
],
"resolve":{"axis":{"x":"independent","y":"independent"}}
}
